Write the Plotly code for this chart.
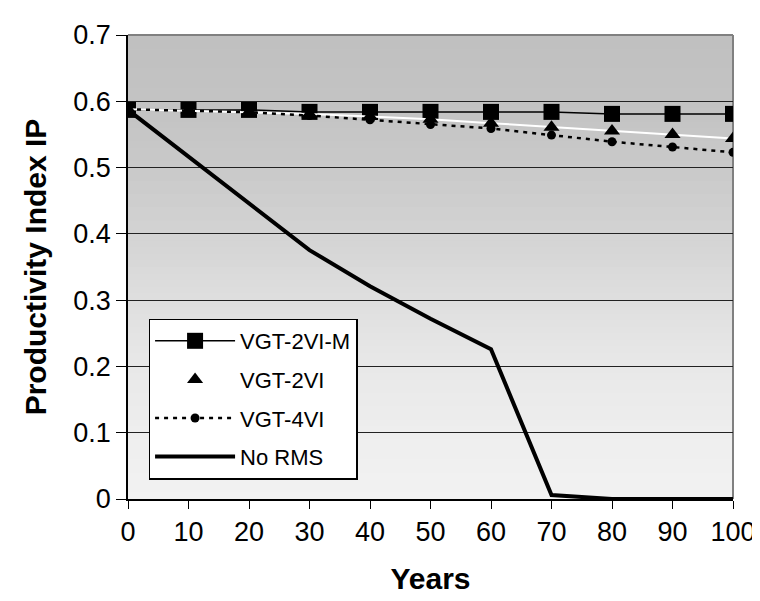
import plotly.graph_objects as go

years = [0, 10, 20, 30, 40, 50, 60, 70, 80, 90, 100]
vgt_2vi_m = [0.587, 0.587, 0.587, 0.584, 0.584, 0.584, 0.584, 0.584, 0.581, 0.581, 0.581]
vgt_2vi = [0.588, 0.586, 0.584, 0.581, 0.577, 0.573, 0.567, 0.561, 0.555, 0.550, 0.544]
vgt_4vi = [0.588, 0.586, 0.5835, 0.5785, 0.572, 0.565, 0.559, 0.549, 0.539, 0.531, 0.523]
no_rms = [0.587, 0.517, 0.446, 0.3755, 0.321, 0.272, 0.226, 0.006, 0.0, 0.0, 0.0]

FONT = "Arial, Liberation Sans, sans-serif"

fig = go.Figure()
fig.add_trace(go.Scatter(x=years, y=vgt_2vi_m, name="VGT-2VI-M", mode="lines+markers",
                         line=dict(color="black", width=1.5),
                         marker=dict(symbol="square", size=16, color="black"),
                         legendgroup="a"))
fig.add_trace(go.Scatter(x=years, y=vgt_2vi, name="VGT-2VI", mode="lines+markers",
                         line=dict(color="white", width=2),
                         marker=dict(symbol="triangle-up", size=14, color="black"),
                         legendgroup="b"))
fig.add_trace(go.Scatter(x=years, y=vgt_4vi, name="VGT-4VI", mode="lines+markers",
                         line=dict(color="black", width=2.5, dash="4px,5px"),
                         marker=dict(symbol="circle", size=9, color="black"),
                         legendgroup="c"))
fig.add_trace(go.Scatter(x=years, y=no_rms, name="No RMS", mode="lines",
                         line=dict(color="black", width=4),
                         legendgroup="d"))

# vertical gradient background for the plot area
stops = [(0.0, 0xf2), (1/7, 0xee), (2/7, 0xe8), (3/7, 0xdf), (4/7, 0xd3),
         (5/7, 0xc9), (6/7, 0xc3), (1.0, 0xc0)]

def shade(f):
    for (f0, c0), (f1, c1) in zip(stops[:-1], stops[1:]):
        if f0 <= f <= f1:
            return round(c0 + (c1 - c0) * (f - f0) / (f1 - f0))
    return stops[-1][1]

shapes = []
n = 70
for i in range(n):
    f0, f1 = i / n, (i + 1) / n
    c = shade((f0 + f1) / 2)
    shapes.append(dict(type="rect", xref="x domain", yref="y domain",
                       x0=0, x1=1, y0=f0, y1=f1 + 0.002,
                       fillcolor=f"rgb({c},{c},{c})", line=dict(width=0),
                       layer="below"))
shapes.append(dict(type="line", xref="x domain", yref="y domain", x0=0, x1=1, y0=1, y1=1,
                   line=dict(color="#808080", width=2), layer="below"))
shapes.append(dict(type="line", xref="x domain", yref="y domain", x0=1, x1=1, y0=0, y1=1,
                   line=dict(color="#808080", width=2), layer="below"))

fig.update_layout(
    width=760, height=601,
    margin=dict(l=120, r=29, t=20, b=110),
    paper_bgcolor="white",
    plot_bgcolor="#d8d8d8",
    font=dict(family=FONT, color="black", size=27),
    shapes=shapes,
    showlegend=True,
    legend=dict(x=0.034, y=0.389, xanchor="left", yanchor="top",
                bgcolor="white", bordercolor="black", borderwidth=1.5,
                font=dict(family=FONT, size=22, color="black"),
                traceorder="grouped", tracegroupgap=7, itemwidth=80),
    xaxis=dict(range=[0, 100], tickvals=years, showgrid=False, zeroline=False,
               showline=True, linecolor="black", linewidth=1.5,
               ticks="outside", ticklen=8, tickcolor="black", tickwidth=1,
               tickfont=dict(size=27),
               title=dict(text="<b>Years</b>", font=dict(size=30), standoff=22)),
    yaxis=dict(range=[0, 0.7], dtick=0.1, showgrid=True, gridcolor="#222222", gridwidth=1,
               zeroline=False, showline=True, linecolor="black", linewidth=1.5,
               ticks="outside", ticklen=10, tickcolor="black", tickwidth=1,
               tickfont=dict(size=27),
               title=dict(text="<b>Productivity Index IP</b>", font=dict(size=30), standoff=18)),
)

fig.write_html("out.html")
